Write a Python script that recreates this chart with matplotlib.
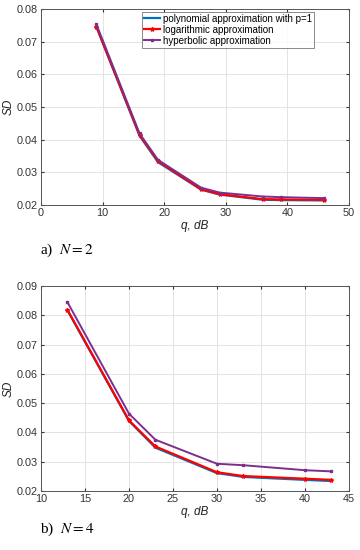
import numpy as np
import matplotlib.pyplot as plt

# N = 2
q_a = [9, 16, 19, 26, 29, 36, 39, 46]
poly_a = [0.0745, 0.0412, 0.0331, 0.0247, 0.0232, 0.0216, 0.0215, 0.0214]
log_a = [0.0746, 0.0414, 0.0334, 0.0248, 0.0233, 0.0218, 0.0217, 0.0216]
hyp_a = [0.0753, 0.0419, 0.0338, 0.0253, 0.0238, 0.0226, 0.0224, 0.0221]

# N = 4
q_b = [13, 20, 23, 30, 33, 40, 43]
poly_b = [0.0817, 0.0439, 0.0348, 0.0261, 0.0248, 0.0238, 0.0234]
log_b = [0.0819, 0.0441, 0.0352, 0.0264, 0.0251, 0.0242, 0.0238]
hyp_b = [0.0845, 0.0464, 0.0375, 0.0293, 0.0288, 0.0271, 0.0267]

labels = ['polynomial approximation with p=1', 'logarithmic approximation', 'hyperbolic approximation']

plt.rcParams['font.family'] = ['Liberation Sans', 'DejaVu Sans']
plt.rcParams['mathtext.fontset'] = 'stix'

fig = plt.figure(figsize=(3.6, 5.5), dpi=100)
ax1 = fig.add_axes([41 / 360, 1 - 205 / 550, 308 / 360, 196 / 550])
ax2 = fig.add_axes([41 / 360, 1 - 491 / 550, 308 / 360, 205 / 550])


def draw(ax, q, p, l, h):
    ax.plot(q, p, color='#0072BD', lw=1.6, label=labels[0])
    ax.plot(q, l, color='red', lw=1.6, marker='*', ms=3, label=labels[1])
    ax.plot(q, h, color='#7E2F8E', lw=1.4, marker='s', ms=1.6, label=labels[2])
    ax.grid(True, color='#e3e3e3', lw=0.7)
    ax.tick_params(direction='in', labelsize=7.8, colors='#333333', length=2.5, top=True, right=True, pad=2.5)
    for s in ax.spines.values():
        s.set_color('#555555')
        s.set_linewidth(0.7)
    ax.set_ylabel('SD', fontsize=8.5, style='italic', color='#222222')
    ax.yaxis.set_label_coords(-0.085, 0.5)
    ax.set_xlabel('q, dB', fontsize=8.5, style='italic', labelpad=1, color='#222222')


draw(ax1, q_a, poly_a, log_a, hyp_a)
ax1.set_xlim(0, 50)
ax1.set_ylim(0.02, 0.08)
ax1.set_xticks(np.arange(0, 51, 10))
ax1.set_yticks(np.arange(0.02, 0.081, 0.01))
ax1.yaxis.set_major_formatter(plt.FormatStrFormatter('%.2f'))
leg = ax1.legend(loc='upper right', bbox_to_anchor=(0.885, 0.985), fontsize=7, frameon=True,
                 fancybox=False, edgecolor='#555555', borderpad=0.2, labelspacing=0.1,
                 handlelength=1.6, handletextpad=0.3, borderaxespad=0)
leg.get_frame().set_linewidth(0.6)

draw(ax2, q_b, poly_b, log_b, hyp_b)
ax2.set_xlim(10, 45)
ax2.set_ylim(0.02, 0.09)
ax2.set_xticks(np.arange(10, 46, 5))
ax2.set_yticks(np.arange(0.02, 0.091, 0.01))
ax2.yaxis.set_major_formatter(plt.FormatStrFormatter('%.2f'))

fig.text(40 / 360, 1 - 250 / 550, 'a)  $N = 2$', fontsize=11, family='Liberation Serif', va='center')
fig.text(40 / 360, 1 - 529 / 550, 'b)  $N = 4$', fontsize=11, family='Liberation Serif', va='center')

fig.savefig('out.png', dpi=100, facecolor='white')
